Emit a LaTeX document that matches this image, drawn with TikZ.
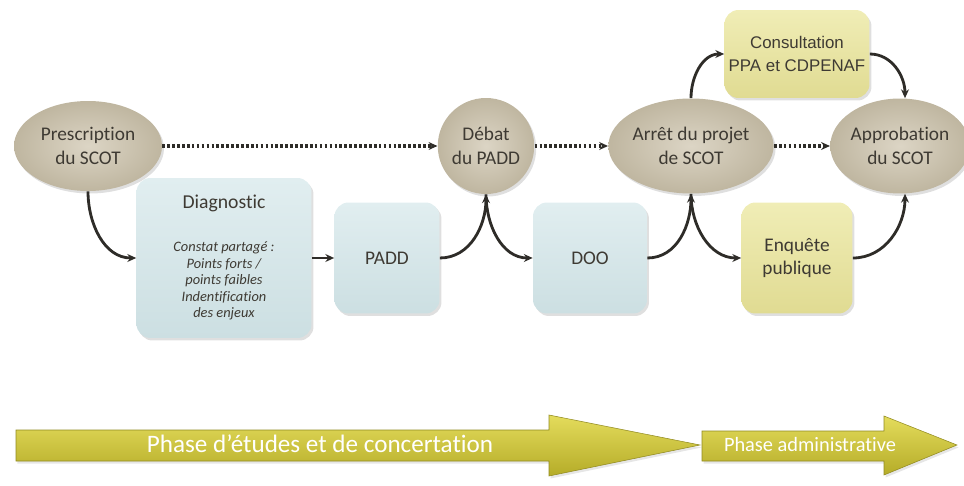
\documentclass[tikz,border=0pt]{standalone}
\usepackage{fontspec}
\setmainfont{Carlito}[Ligatures=NoCommon]
\newfontfamily\arialfont{Liberation Sans}
\usetikzlibrary{shapes.geometric,shadows,arrows.meta}
\definecolor{ovalin}{HTML}{DCD5C5}
\definecolor{ovalout}{HTML}{BFB6A0}
\definecolor{bluetop}{HTML}{E1EEF0}
\definecolor{bluebot}{HTML}{CCDFE2}
\definecolor{yeltop}{HTML}{F0EDB6}
\definecolor{yelbot}{HTML}{E0DB92}
\definecolor{arrtop}{HTML}{E4DC5C}
\definecolor{arrbot}{HTML}{B5AC28}
\definecolor{inktext}{HTML}{3E3A33}
\definecolor{linkcol}{HTML}{2E2C28}
\begin{document}
\begin{tikzpicture}
[x=0.02cm,y=-0.02cm,
  ovaldecorate/.style={shape=ellipse,inner sep=0pt,shading=radial,
    inner color=ovalin,outer color=ovalout,text=inktext,align=center,
    font=\fontsize{11}{13.6}\selectfont,
    drop shadow={opacity=0.25,shadow xshift=0.04cm,shadow yshift=-0.05cm}},
  boxdecorate/.style={shape=rectangle,rounded corners=0.28cm,inner sep=0pt,
    top color=bluetop,bottom color=bluebot,text=inktext,align=center,
    font=\fontsize{11}{13.6}\selectfont,
    drop shadow={opacity=0.25,shadow xshift=0.04cm,shadow yshift=-0.05cm}},
  yellowbox/.style={boxdecorate,top color=yeltop,bottom color=yelbot},
  linkdecorate/.style={-{Stealth[length=5pt,width=4.5pt]},line width=1.6pt,color=linkcol},
  dotdecorate/.style={linkdecorate,line width=1.8pt,dash pattern=on 1.5pt off 1.3pt},
  phasearrow/.style={top color=arrtop,bottom color=arrbot,draw=arrbot!80!black,
    line width=0.3pt,drop shadow={opacity=0.2,shadow xshift=0.03cm,shadow yshift=-0.05cm}}]
\useasboundingbox (0,0) rectangle (964,486);
%% steps of the procedure
\node (presc) at (88,146) [ovaldecorate,minimum width=2.96cm,minimum height=1.8cm]
  {Prescription\\du SCOT};
\node (debat) at (486,146) [ovaldecorate,minimum width=1.92cm,minimum height=1.92cm]
  {D\'ebat\\du PADD};
\node (arret) at (691,146) [ovaldecorate,minimum width=3.04cm,minimum height=1.9cm]
  {Arr\^et du projet\\de SCOT};
\node (appro) at (900,146) [ovaldecorate,minimum width=2.6cm,minimum height=1.9cm]
  {Approbation\\du SCOT};
%% documents
\node (diag) at (224,258) [boxdecorate,minimum width=3.5cm,minimum height=3.2cm] {};
\node at (224,203) [text=inktext,font=\fontsize{11.2}{13.6}\selectfont] {Diagnostic};
\node at (224,281) [text=inktext,align=center,font=\fontsize{8.2}{9.4}\selectfont\itshape]
  {Constat partag\'e :\\Points forts /\\points faibles\\Indentification\\des enjeux};
\node (padd) at (387,258) [boxdecorate,minimum width=2.1cm,minimum height=2.22cm] {PADD};
\node (doo) at (590,258) [boxdecorate,minimum width=2.28cm,minimum height=2.22cm] {DOO};
\node (consult) at (797,54) [yellowbox,minimum width=2.9cm,minimum height=1.76cm,
  font=\arialfont\fontsize{9.6}{12.6}\selectfont] {Consultation\\PPA et CDPENAF};
\node (enquete) at (797,258) [yellowbox,minimum width=2.22cm,minimum height=2.22cm]
  {Enqu\^ete\\publique};
%% connectors
\draw[dotdecorate] (presc) -- (debat);
\draw[dotdecorate] (debat) -- (arret);
\draw[dotdecorate] (arret) -- (appro);
\draw[linkdecorate] (presc.south) to[out=-90,in=180] (diag.west);
\draw[linkdecorate] (diag.east) -- (padd.west);
\draw[linkdecorate] (padd.east) to[out=0,in=-90] (debat.south);
\draw[linkdecorate] (debat.south) to[out=-90,in=180] (doo.west);
\draw[linkdecorate] (doo.east) to[out=0,in=-90] (arret.south);
\draw[linkdecorate] (arret.south) to[out=-90,in=180] (enquete.west);
\draw[linkdecorate] (arret.north) to[out=90,in=180] (consult.west);
\draw[linkdecorate] (consult.east) to[out=0,in=90] ([xshift=0.1cm]appro.north);
\draw[linkdecorate] (enquete.east) to[out=0,in=-90] ([xshift=0.1cm]appro.south);
%% phases
\path[phasearrow] (16,430) -- (549,430) -- (549,415) -- (700,445) -- (549,476)
  -- (549,461) -- (16,461) -- cycle;
\path[phasearrow] (702,431) -- (884,431) -- (884,416) -- (957,445) -- (884,475)
  -- (884,461) -- (702,461) -- cycle;
\node (etudes) at (320,444) [text=white,font=\fontsize{14.3}{16}\selectfont]
  {Phase d'\'etudes et de concertation};
\node (admin) at (810,444) [text=white,font=\fontsize{11.6}{13}\selectfont]
  {Phase administrative};
\end{tikzpicture}
\end{document}
